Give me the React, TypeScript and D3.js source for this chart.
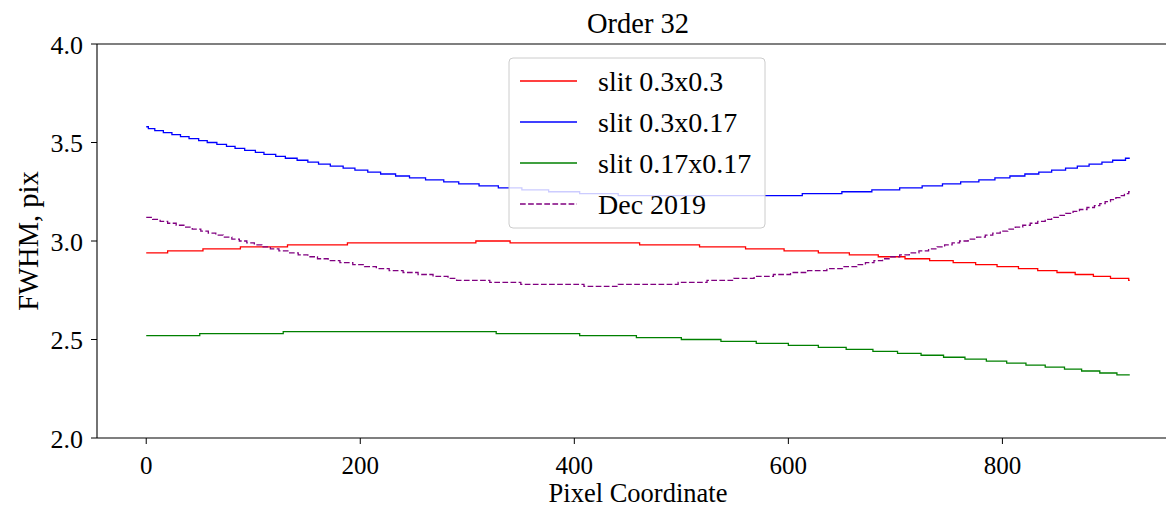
import React from "react";
import * as d3 from "d3";

// FWHM along the detector row, order 32. Each series is stored as the
// x positions where the (0.01-quantised) value changes, plus the value
// that holds from that position onwards.
const X_END = 919;

const redX = [0, 20, 53, 88, 132, 188, 308, 340, 461, 517, 560, 596, 628, 657, 684, 709, 732, 754, 775, 795, 815, 833, 851, 868, 885, 901, 918];
const redV = [2.94, 2.95, 2.96, 2.97, 2.98, 2.99, 3.0, 2.99, 2.98, 2.97, 2.96, 2.95, 2.94, 2.93, 2.92, 2.91, 2.9, 2.89, 2.88, 2.87, 2.86, 2.85, 2.84, 2.83, 2.82, 2.81, 2.8];

const blueX = [0, 2, 8, 16, 24, 32, 40, 49, 57, 66, 75, 83, 92, 102, 110, 121, 130, 141, 151, 161, 172, 184, 195, 207, 219, 233, 246, 261, 278, 292, 311, 329, 351, 376, 405, 441, 613, 650, 678, 704, 725, 744, 761, 778, 793, 807, 821, 834, 846, 859, 870, 881, 893, 903, 915];
const blueV = [3.58, 3.57, 3.56, 3.55, 3.54, 3.53, 3.52, 3.51, 3.5, 3.49, 3.48, 3.47, 3.46, 3.45, 3.44, 3.43, 3.42, 3.41, 3.4, 3.39, 3.38, 3.37, 3.36, 3.35, 3.34, 3.33, 3.32, 3.31, 3.3, 3.29, 3.28, 3.27, 3.26, 3.25, 3.24, 3.23, 3.24, 3.25, 3.26, 3.27, 3.28, 3.29, 3.3, 3.31, 3.32, 3.33, 3.34, 3.35, 3.36, 3.37, 3.38, 3.39, 3.4, 3.41, 3.42];

const greenX = [0, 50, 128, 327, 405, 458, 500, 537, 570, 600, 628, 654, 679, 702, 724, 745, 765, 785, 804, 822, 840, 858, 874, 891, 907];
const greenV = [2.52, 2.53, 2.54, 2.53, 2.52, 2.51, 2.5, 2.49, 2.48, 2.47, 2.46, 2.45, 2.44, 2.43, 2.42, 2.41, 2.4, 2.39, 2.38, 2.37, 2.36, 2.35, 2.34, 2.33, 2.32];

const decX = [0, 6, 13, 20, 28, 36, 43, 51, 58, 65, 72, 80, 87, 94, 101, 108, 116, 124, 133, 142, 151, 160, 170, 181, 193, 204, 215, 227, 240, 254, 268, 282, 290, 321, 350, 409, 441, 497, 524, 549, 568, 586, 602, 618, 636, 652, 664, 672, 680, 688, 695, 704, 713, 722, 731, 739, 746, 753, 760, 768, 776, 784, 791, 798, 805, 812, 819, 826, 833, 840, 846, 853, 859, 866, 872, 879, 886, 891, 896, 901, 906, 910, 914, 918];
const decV = [3.12, 3.11, 3.1, 3.09, 3.08, 3.07, 3.06, 3.05, 3.04, 3.03, 3.02, 3.01, 3.0, 2.99, 2.98, 2.97, 2.96, 2.95, 2.94, 2.93, 2.92, 2.91, 2.9, 2.89, 2.88, 2.87, 2.86, 2.85, 2.84, 2.83, 2.82, 2.81, 2.8, 2.79, 2.78, 2.77, 2.78, 2.79, 2.8, 2.81, 2.82, 2.83, 2.84, 2.85, 2.86, 2.87, 2.88, 2.89, 2.9, 2.91, 2.92, 2.93, 2.94, 2.95, 2.96, 2.97, 2.98, 2.99, 3.0, 3.01, 3.02, 3.03, 3.04, 3.05, 3.06, 3.07, 3.08, 3.09, 3.1, 3.11, 3.12, 3.13, 3.14, 3.15, 3.16, 3.17, 3.18, 3.19, 3.2, 3.21, 3.22, 3.23, 3.24, 3.25];

const seriesNames = ["slit 0.3x0.3", "slit 0.3x0.17", "slit 0.17x0.17", "Dec 2019"];
const xTicks = [0, 200, 400, 600, 800];
const yTicks = [2.0, 2.5, 3.0, 3.5, 4.0];

const W = 1166;
const H = 507;
const LEFT = 97;
const RIGHT = 1179;
const TOP = 44;
const BOTTOM = 438;
const FONT = "'Liberation Serif', 'Times New Roman', serif";

const x = d3.scaleLinear().domain([-46, 965]).range([LEFT, RIGHT]);
const y = d3.scaleLinear().domain([2, 4]).range([BOTTOM, TOP]);

const toPoints = (xs: number[], vs: number[]): [number, number][] => {
  const pts: [number, number][] = xs.map((xv, i) => [xv, vs[i]]);
  pts.push([X_END, vs[vs.length - 1]]);
  return pts;
};

const line = d3
  .line<[number, number]>()
  .x((d) => x(d[0]))
  .y((d) => y(d[1]))
  .curve(d3.curveStepAfter);

const series = [
  { name: seriesNames[0], color: "#ff0000", dash: undefined as string | undefined, pts: toPoints(redX, redV) },
  { name: seriesNames[1], color: "#0000ff", dash: undefined, pts: toPoints(blueX, blueV) },
  { name: seriesNames[2], color: "#008000", dash: undefined, pts: toPoints(greenX, greenV) },
  { name: seriesNames[3], color: "#800080", dash: "5.7,2.4", pts: toPoints(decX, decV) },
];

export default function App() {
  const legendX = 509;
  const legendY = 58;
  const legendW = 256;
  const legendH = 170;
  const rowY = (i: number) => 81 + i * 41;

  return (
    <svg
      width={W}
      height={H}
      viewBox={`0 0 ${W} ${H}`}
      style={{ position: "absolute", left: 0, top: 0, background: "#fff" }}
      fontFamily={FONT}
    >
      <rect x={0} y={0} width={W} height={H} fill="#fff" />

      {/* data lines */}
      <g fill="none" strokeWidth={1.3} strokeLinejoin="miter">
        {series.map((s) => (
          <path key={s.name} d={line(s.pts) || ""} stroke={s.color} strokeDasharray={s.dash} />
        ))}
      </g>

      {/* spines */}
      <g stroke="#000" strokeWidth={1.1} fill="none">
        <line x1={LEFT} x2={LEFT} y1={TOP} y2={BOTTOM} />
        <line x1={LEFT} x2={RIGHT} y1={BOTTOM} y2={BOTTOM} />
        <line x1={LEFT} x2={RIGHT} y1={TOP} y2={TOP} />
        <line x1={RIGHT} x2={RIGHT} y1={TOP} y2={BOTTOM} />
      </g>

      {/* x axis */}
      <g>
        {xTicks.map((t) => (
          <g key={t}>
            <line x1={x(t)} x2={x(t)} y1={BOTTOM} y2={BOTTOM + 6} stroke="#000" strokeWidth={1} />
            <text x={x(t)} y={473.5} textAnchor="middle" fontSize={25} fill="#000">
              {t}
            </text>
          </g>
        ))}
        <text x={(LEFT + RIGHT) / 2} y={501.5} textAnchor="middle" fontSize={26.5} fill="#000">
          Pixel Coordinate
        </text>
      </g>

      {/* y axis */}
      <g>
        {yTicks.map((t) => (
          <g key={t}>
            <line x1={LEFT - 6} x2={LEFT} y1={y(t)} y2={y(t)} stroke="#000" strokeWidth={1} />
            <text x={83} y={y(t) + 9.5} textAnchor="end" fontSize={26} fill="#000">
              {t.toFixed(1)}
            </text>
          </g>
        ))}
        <text
          transform={`translate(38, ${(TOP + BOTTOM) / 2}) rotate(-90)`}
          textAnchor="middle"
          fontSize={28.5}
          fill="#000"
        >
          FWHM, pix
        </text>
      </g>

      {/* title */}
      <text x={(LEFT + RIGHT) / 2} y={33} textAnchor="middle" fontSize={28.5} fill="#000">
        Order 32
      </text>

      {/* legend */}
      <g>
        <rect
          x={legendX}
          y={legendY}
          width={legendW}
          height={legendH}
          rx={4}
          ry={4}
          fill="rgba(255,255,255,0.8)"
          stroke="#cccccc"
          strokeWidth={1}
        />
        {series.map((s, i) => (
          <g key={s.name}>
            <line
              x1={520}
              x2={577}
              y1={rowY(i)}
              y2={rowY(i)}
              stroke={s.color}
              strokeWidth={1.3}
              strokeDasharray={s.dash}
            />
            <text x={598} y={rowY(i) + 10} fontSize={28} fill="#000">
              {s.name}
            </text>
          </g>
        ))}
      </g>
    </svg>
  );
}
